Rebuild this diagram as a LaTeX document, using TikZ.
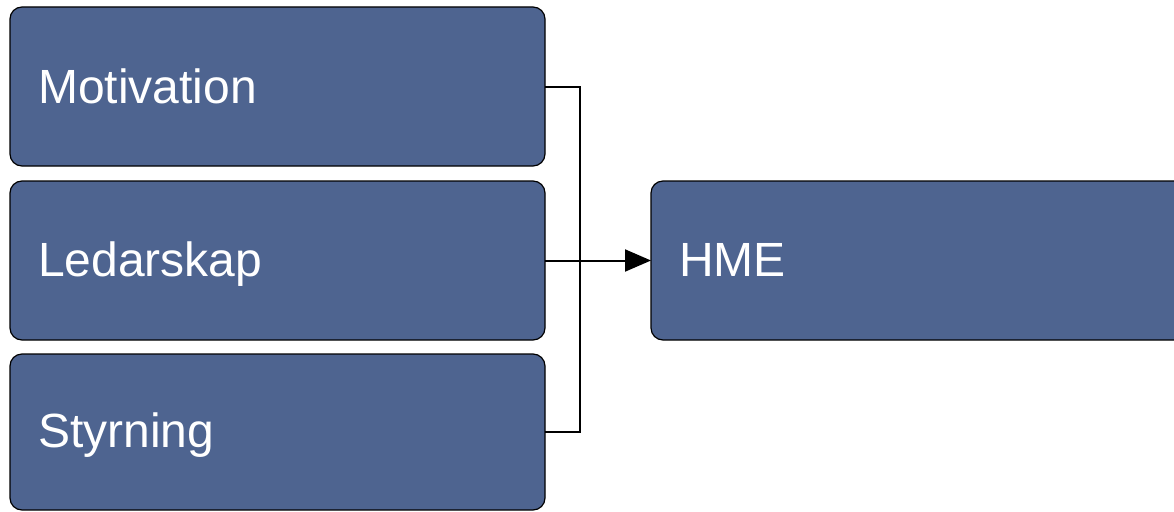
\documentclass[tikz,border=0pt]{standalone}
\usepackage{fontspec}
\setmainfont{Liberation Sans}
\usetikzlibrary{arrows.meta}
\definecolor{boxblue}{RGB}{78,100,144}
\begin{document}
\begin{tikzpicture}[x=1pt,y=-1pt,
  bluebox/.style={draw=black, line width=1.2pt, fill=boxblue, rounded corners=12pt,
    minimum width=535pt, minimum height=159pt, inner sep=0pt, outer sep=0pt, anchor=north west},
  lbl/.style={text=white, font=\fontsize{48}{56}\selectfont, anchor=base west, inner sep=0pt},
  conn/.style={line width=2pt, draw=black}]
\useasboundingbox (0,0) rectangle (1174,511);
\node[bluebox] (m) at (10,7) {};
\node[bluebox] (l) at (10,181) {};
\node[bluebox, minimum height=156pt] (s) at (10,354) {};
\node[bluebox, minimum width=540pt] (h) at (651,181) {};
\node[lbl] (mt) at (38,103) {Motivation};
\node[lbl] (lt) at (38,276) {Ledarskap};
\node[lbl] (st) at (38,447) {Styrning};
\node[lbl] (ht) at (679,276) {HME};
\coordinate (j) at (580,261);
\draw[conn] (m.east) -| (j);
\draw[conn] (s.east) -| (j);
\draw[conn, -{Triangle[length=26pt,width=22pt]}] (l.east) -- (h.west);
\end{tikzpicture}
\end{document}
